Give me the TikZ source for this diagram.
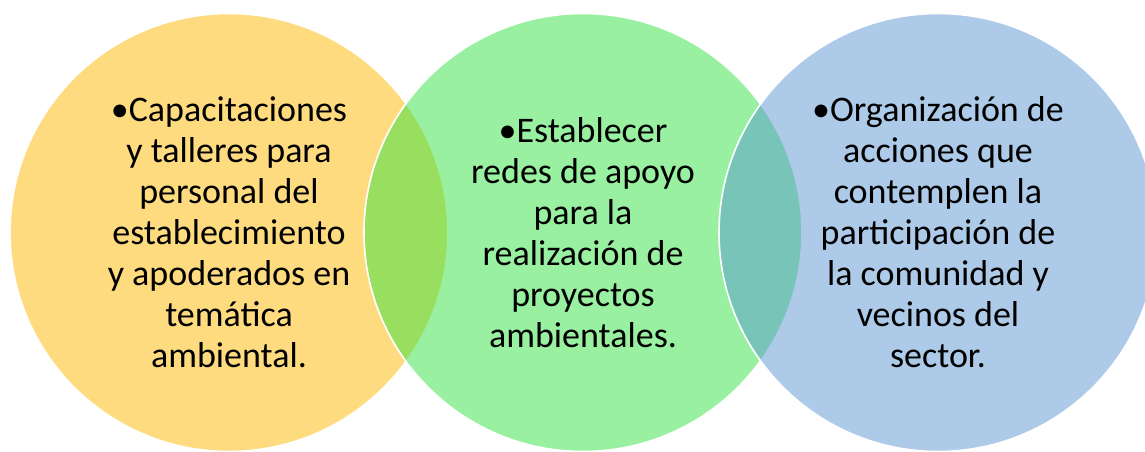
\documentclass[tikz,border=0pt]{standalone}
\usepackage{fontspec}
\setmainfont{Carlito}
\usepackage{tikz}

\definecolor{venny}{RGB}{255,184,0}
\definecolor{venng}{RGB}{50,226,66}
\definecolor{vennb}{RGB}{91,151,209}

\tikzset{
  vcirc/.style={circle,minimum size=438pt,inner sep=0pt,draw=white,line width=1.6pt,
    fill opacity=0.5,draw opacity=1},
  vtxt/.style={align=center,text=black,inner sep=0pt,
    font=\fontsize{36}{41}\selectfont}
}

\begin{document}
\begin{tikzpicture}[line cap=round,line join=round,x=1pt,y=1pt]
      \useasboundingbox (0,0) rectangle (1145,452);
      \clip (0,0) rectangle (1145,452);
      \foreach \n/\x/\c in {ycirc/229/venny,gcirc/583/venng,bcirc/938/vennb}{
        \node[vcirc,fill=\c] (\n) at (\x,219.5) {};
      }

      \node[vtxt] (ytxt) at (ycirc.center) {\textbullet Capacitaciones\\y talleres para\\personal del\\establecimiento\\y apoderados en\\temática\\ambiental.};
      \node[vtxt] (gtxt) at (gcirc.center) {\textbullet Establecer\\redes de apoyo\\para la\\realización de\\proyectos\\ambientales.};
      \node[vtxt] (btxt) at (bcirc.center) {\textbullet Organización de\\acciones que\\contemplen la\\participación de\\la comunidad y\\vecinos del\\sector.};
\end{tikzpicture}
\end{document}
